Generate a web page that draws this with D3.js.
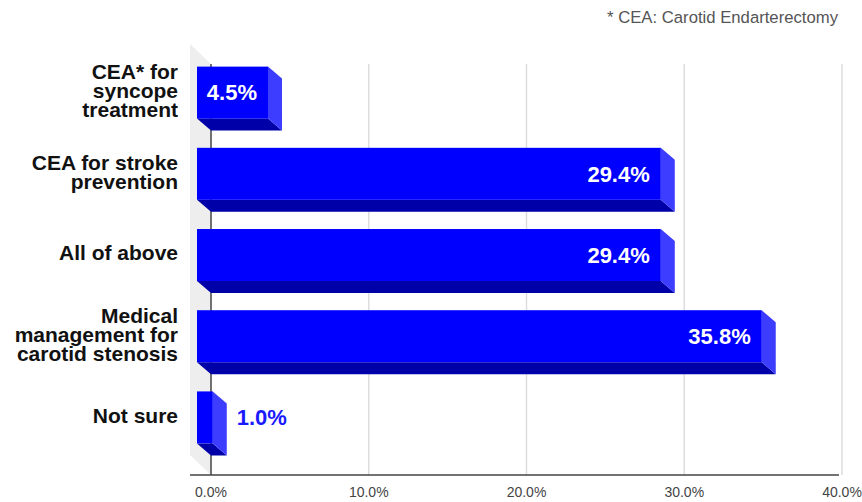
<!DOCTYPE html>
<html>
<head>
<meta charset="utf-8">
<script src="https://cdn.jsdelivr.net/npm/d3@7"></script>
<style>
  body { margin: 0; background: #fff; }
  text { font-family: "Liberation Sans", Arial, sans-serif; }
</style>
</head>
<body>
<script>
// chart data
var categories = [
    ["CEA* for", "syncope", "treatment"],
    ["CEA for stroke", "prevention"],
    ["All of above"],
    ["Medical", "management for", "carotid stenosis"],
    ["Not sure"]
];
var values = [4.5, 29.4, 29.4, 35.8, 1.0];
var ticks = [0, 10, 20, 30, 40];
var footnote = "* CEA: Carotid Endarterectomy";

var W = 862, H = 502;
var dx = 14, dy = 12;       // bar depth
var wx = 21, wy = 20;       // wall depth

var svg = d3.select("body").append("svg")
    .attr("width", W)
    .attr("height", H);

var x = d3.scaleLinear().domain([0, 40]).range([211, 842]);
var y = d3.scaleBand()
    .domain(d3.range(values.length))
    .range([64, 470])
    .paddingInner(0.36)
    .paddingOuter(0.18);
var yTop = 64, yBot = 475;

// side wall
svg.append("polygon")
    .attr("points", [[x(0), yTop], [x(0) - wx, yTop - wy], [x(0) - wx, yBot - wy], [x(0), yBot]].join(" "))
    .attr("fill", "#eeeeee");

// grid
svg.selectAll("line.grid")
    .data(ticks.slice(1))
    .enter()
    .append("line")
    .attr("class", "grid")
    .attr("x1", function(d){ return x(d); })
    .attr("x2", function(d){ return x(d); })
    .attr("y1", yTop)
    .attr("y2", yBot)
    .attr("stroke", "#dddddd")
    .attr("stroke-width", 1.5);

svg.append("line")
    .attr("x1", x(0)).attr("x2", x(0))
    .attr("y1", yTop).attr("y2", yBot)
    .attr("stroke", "#444")
    .attr("stroke-width", 1.5);

// bars
var bars = svg.selectAll("g.bar")
    .data(values)
    .enter()
    .append("g")
    .attr("class", "bar");

bars.append("polygon")   // bottom
    .attr("fill", "#0000a8")
    .attr("points", function(d, i){
        var x0 = x(0), x1 = x(d), yb = y(i) + y.bandwidth();
        return [[x0 - dx, yb - dy], [x1 - dx, yb - dy], [x1, yb], [x0, yb]].join(" ");
    });
bars.append("polygon")   // side
    .attr("fill", "#3d3dff")
    .attr("points", function(d, i){
        var x1 = x(d), yt = y(i), yb = yt + y.bandwidth();
        return [[x1 - dx, yt - dy], [x1, yt], [x1, yb], [x1 - dx, yb - dy]].join(" ");
    });
bars.append("rect")      // front
    .attr("fill", "#0000ff")
    .attr("x", x(0) - dx)
    .attr("y", function(d, i){ return y(i) - dy; })
    .attr("width", function(d){ return x(d) - x(0); })
    .attr("height", y.bandwidth());

// value labels
bars.append("text")
    .attr("x", function(d){
        if (d < 3) return x(d) + 10;
        return x(d) - dx - 11;
    })
    .attr("y", function(d, i){ return y(i) - dy + y.bandwidth() / 2; })
    .attr("dy", "0.35em")
    .attr("text-anchor", function(d){ return d < 3 ? "start" : "end"; })
    .attr("fill", function(d){ return d < 3 ? "#1a1aff" : "#fff"; })
    .attr("font-size", 22)
    .attr("font-weight", "bold")
    .text(function(d){ return d.toFixed(1) + "%"; });

// x axis
svg.append("line")
    .attr("x1", x(0) - wx).attr("x2", x(40) - 3)
    .attr("y1", yBot).attr("y2", yBot)
    .attr("stroke", "#444")
    .attr("stroke-width", 1.5);

svg.selectAll("text.tick")
    .data(ticks)
    .enter()
    .append("text")
    .attr("class", "tick")
    .attr("x", function(d){ return x(d); })
    .attr("y", 497)
    .attr("text-anchor", "middle")
    .attr("fill", "#444")
    .attr("font-size", 14)
    .text(function(d){ return d.toFixed(1) + "%"; });

// category labels
var lab = svg.selectAll("text.cat")
    .data(categories)
    .enter()
    .append("text")
    .attr("class", "cat")
    .attr("text-anchor", "end")
    .attr("font-size", 21)
    .attr("font-weight", "bold")
    .attr("fill", "#111")
    .attr("y", function(d, i){
        return y(i) - dy + y.bandwidth() / 2 - 2 - (d.length - 1) * 19 / 2;
    });
lab.selectAll("tspan")
    .data(function(d){ return d; })
    .enter()
    .append("tspan")
    .attr("x", 178)
    .attr("dy", function(d, j){ return j == 0 ? "0.35em" : 19; })
    .text(function(d){ return d; });

svg.append("text")
    .attr("x", 838)
    .attr("y", 23)
    .attr("text-anchor", "end")
    .attr("fill", "#555")
    .attr("font-size", 16.7)
    .text(footnote);
</script>
</body>
</html>
